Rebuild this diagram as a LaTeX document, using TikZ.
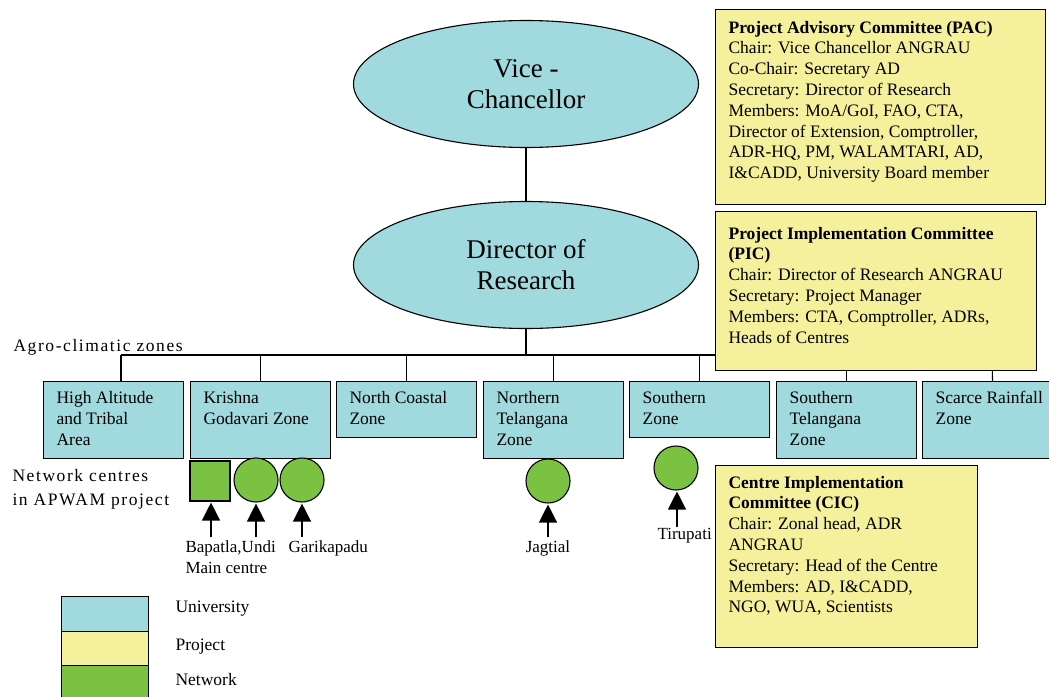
\documentclass[tikz,border=0pt]{standalone}
\usepackage{fontspec}
\setmainfont{Liberation Serif}
\usetikzlibrary{arrows.meta,shapes.geometric,calc}
\definecolor{uni}{RGB}{160,217,222}
\definecolor{proj}{RGB}{245,240,155}
\definecolor{netw}{RGB}{123,193,66}
\begin{document}
\begin{tikzpicture}[x=1pt,y=-1pt,line width=1.1pt,
  ell/.style={ellipse,draw,fill=uni,minimum width=345pt,minimum height=127pt,align=center,inner sep=0pt,font=\fontsize{27}{31}\selectfont},
  zonebox/.style={draw,fill=uni,anchor=north west,inner sep=0pt,minimum width=140pt},
  projbox/.style={draw,fill=proj,anchor=north west,inner sep=0pt},
  txt/.style={anchor=base west,align=left,inner sep=0pt,font=\fontsize{17.5}{20.8}\selectfont},
  ztxt/.style={anchor=base west,align=left,inner sep=0pt,font=\fontsize{17.5}{21}\selectfont},
  spaced/.style={anchor=base west,align=left,inner sep=0pt,font=\fontsize{17.5}{24}\selectfont\addfontfeatures{LetterSpace=9}},
  small/.style={anchor=base west,align=left,inner sep=0pt,font=\fontsize{17}{21}\selectfont},
  lbl/.style={inner sep=0pt,anchor=west,font=\fontsize{17.5}{21.5}\selectfont},
  netc/.style={circle,draw,fill=netw,minimum size=44pt,inner sep=0pt},
  arr/.style={-{Triangle[length=18pt,width=18pt]},line width=1.3pt,shorten >=1pt}]
\useasboundingbox (0,0) rectangle (1049,696);

% hierarchy
\node[ell] (vc) at (526,84) {Vice -\\Chancellor};
\node[ell] (dr) at (526,265) {Director of\\Research};
\coordinate (bus) at (526,355);
\coordinate (bl) at (121,355);
\coordinate (br) at (992,355);
\draw (vc) -- (dr);
\draw (dr) -- (bus);
\draw (bl) -- (br);

% zone boxes
\node[zonebox,minimum height=77pt] (z1) at (43,381) {};
\node[zonebox,minimum height=77pt] (z2) at (190,381) {};
\node[zonebox,minimum height=56pt] (z3) at (336,381) {};
\node[zonebox,minimum height=77pt] (z4) at (483,381) {};
\node[zonebox,minimum height=56pt] (z5) at (629,381) {};
\node[zonebox,minimum height=77pt] (z6) at (776,381) {};
\node[zonebox,minimum height=77pt] (z7) at (922,381) {};
\draw (bl) -- (bl |- z1.north);
\draw (z2.north |- bus) -- (z2.north);
\draw (z3.north |- bus) -- (z3.north);
\draw (z4.north |- bus) -- (z4.north);
\draw (z5.north |- bus) -- (z5.north);
\draw (z6.north |- bus) -- (z6.north);
\draw (br) -- (z7.north);

% (base anchor = last line baseline)
\node[ztxt] at (56,445) {High Altitude\\and Tribal\\Area};
\node[ztxt] at (203,424) {Krishna\\Godavari Zone};
\node[ztxt] at (349,424) {North Coastal\\Zone};
\node[ztxt] at (496,445) {Northern\\Telangana\\Zone};
\node[ztxt] at (642,424) {Southern\\Zone};
\node[ztxt] at (789,445) {Southern\\Telangana\\Zone};
\node[ztxt] at (935,424) {Scarce Rainfall\\Zone};

\node[spaced] at (13,351) {Agro-climatic zones};
\node[spaced] at (12,505) {Network centres\\in APWAM project};

% project boxes
\node[projbox,minimum width=330pt,minimum height=195pt] (pac) at (715,9) {};
\node[txt] at (728,178.6) {\textbf{Project Advisory Committee (PAC)}\\Chair: Vice Chancellor ANGRAU\\Co-Chair: Secretary AD\\Secretary: Director of Research\\Members: MoA/GoI, FAO, CTA,\\Director of Extension, Comptroller,\\ADR-HQ, PM, WALAMTARI, AD,\\I\&CADD, University Board member};
\node[projbox,minimum width=321pt,minimum height=159pt] (pic) at (715,211) {};
\node[txt] at (728,343) {\textbf{Project Implementation Committee}\\\textbf{(PIC)}\\Chair: Director of Research ANGRAU\\Secretary: Project Manager\\Members: CTA, Comptroller, ADRs,\\Heads of Centres};
\node[projbox,minimum width=262pt,minimum height=182pt] (cic) at (715,465) {};
\node[txt] at (728,612.8) {\textbf{Centre Implementation}\\\textbf{Committee (CIC)}\\Chair: Zonal head, ADR\\ANGRAU\\Secretary: Head of the Centre\\Members: AD, I\&CADD,\\NGO, WUA, Scientists};

% network centres
\node[draw,fill=netw,minimum size=40pt,inner sep=0pt] (bap) at (210,481) {};
\node[netc] (und) at (256,480) {};
\node[netc] (gar) at (302,480) {};
\node[netc] (jag) at (548,481) {};
\node[netc] (tir) at (676,468) {};

\coordinate (tbap) at (211,537);
\coordinate (tund) at (256,537);
\coordinate (tgar) at (302,537);
\coordinate (tjag) at (548,537);
\coordinate (ttir) at (677,527);
\draw[arr] (tbap) -- (tbap |- bap.south);
\draw[arr] (tund) -- (und.south);
\draw[arr] (tgar) -- (gar.south);
\draw[arr] (tjag) -- (jag.south);
\draw[arr] (ttir) -- (ttir |- tir.south);

\node[small] at (185,573) {Bapatla,Undi\\Main centre};
\node[small] at (288,552) {Garikapadu};
\node[small,anchor=base] at (548,552) {Jagtial};
\node[small] at (657,539) {Tirupati};

% legend
\node[draw,fill=uni,anchor=north west,inner sep=0pt,minimum width=87pt,minimum height=35pt] (lu) at (61,596) {};
\node[draw,fill=proj,anchor=north west,inner sep=0pt,minimum width=87pt,minimum height=34pt] (lp) at (61,631) {};
\node[draw,fill=netw,anchor=north west,inner sep=0pt,minimum width=87pt,minimum height=40pt] (ln) at (61,665) {};
\node[lbl] at (175,609) {University};
\node[lbl] at (175,647) {Project};
\node[lbl] at (175,680) {Network};
\end{tikzpicture}
\end{document}
